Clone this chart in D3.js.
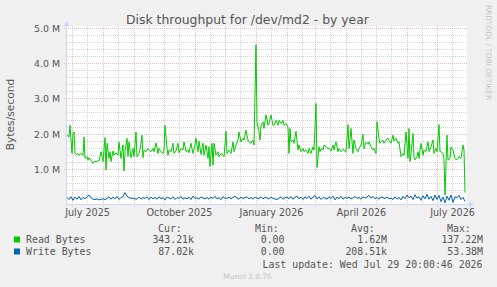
<!DOCTYPE html>
<html>
<head>
<meta charset="utf-8">
<script src="https://cdn.jsdelivr.net/npm/d3@7"></script>
<style>
  body { margin: 0; background: #f0f0f0; }
  svg { display: block; }
  text { font-family: "DejaVu Sans", sans-serif; fill: #555; }
  text.mono { font-family: "DejaVu Sans Mono", monospace; }
</style>
</head>
<body>
<svg id="chart"></svg>
<script>
// time window of the yearly graph (UTC)
const startDate = new Date(Date.UTC(2025, 5, 25, 12));
const endDate = new Date(Date.UTC(2026, 6, 30, 12));

// read throughput, [day offset from startDate, MB/s]
const readBytes = [
  [0,1.97],[2,1.92],[3,2.25],[5,1.45],[6,2.02],[7,2.06],[8,1.45],[9,1.42],[11,1.45],[12,1.40],[14,1.45],[16,1.40],
  [17,1.92],[18,1.31],[20,1.36],[21,1.26],[22,1.33],[24,1.26],[26,1.17],[27,1.22],[29,1.22],[31,1.24],[32,1.24],
  [34,1.50],[35,1.36],[36,1.22],[38,1.90],[39,0.98],[40,1.74],[42,1.31],[43,1.50],[44,1.22],[46,1.52],[47,1.40],
  [49,1.47],[51,1.40],[52,1.77],[54,1.31],[56,1.69],[57,0.95],[58,1.50],[60,1.88],[61,1.36],[62,1.78],[64,1.33],
  [66,1.59],[67,1.36],[69,2.06],[70,1.36],[72,1.45],[73,1.55],[75,1.97],[76,1.33],[77,1.55],[79,1.50],[81,1.59],
  [82,1.55],[84,1.50],[86,1.59],[87,1.50],[89,1.75],[91,1.45],[92,1.59],[94,1.50],[96,1.45],[97,1.55],[98,2.25],
  [100,1.59],[101,1.40],[102,1.55],[104,1.50],[106,1.74],[107,1.45],[109,1.52],[111,1.74],[112,1.47],[114,1.59],
  [116,1.55],[117,1.78],[119,1.50],[121,1.55],[122,1.47],[124,1.74],[126,1.45],[127,1.55],[129,1.88],[131,1.50],
  [132,1.80],[134,1.42],[136,1.74],[137,1.40],[139,1.69],[141,1.31],[142,1.64],[143,1.08],[145,1.74],[146,1.12],
  [147,1.74],[149,1.40],[151,1.50],[152,1.36],[154,1.45],[156,1.40],[157,1.36],[159,2.08],[160,1.45],[162,1.55],
  [164,1.45],[166,1.78],[167,1.50],[169,1.69],[171,1.83],[172,2.06],[174,1.78],[176,1.88],[177,1.83],[179,2.11],
  [181,1.83],[182,1.78],[184,1.74],[186,1.83],[187,1.69],[189,4.54],[190,2.35],[192,2.06],[193,1.83],[194,2.25],
  [196,2.35],[197,2.16],[199,2.55],[201,2.25],[202,2.30],[204,2.54],[206,2.25],[207,2.25],[209,2.39],[211,2.25],
  [212,2.39],[214,2.30],[216,2.39],[217,2.25],[219,2.30],[221,2.20],[222,1.45],[223,2.16],[224,1.78],[226,1.83],
  [227,1.74],[229,2.08],[231,1.55],[232,1.69],[234,1.50],[236,1.59],[237,1.50],[239,1.55],[241,1.45],[242,1.59],
  [244,1.45],[246,1.64],[247,1.55],[249,2.87],[250,1.05],[252,1.64],[253,1.50],[254,1.59],[256,1.55],[257,1.69],
  [259,1.64],[261,1.59],[262,1.61],[264,1.52],[266,1.69],[267,1.55],[269,1.78],[271,1.50],[272,1.59],[274,1.50],
  [276,1.57],[277,1.55],[279,1.48],[281,2.27],[282,1.59],[284,2.16],[286,1.45],[287,1.83],[289,1.59],[291,1.50],
  [292,1.59],[294,1.69],[296,1.99],[297,1.59],[299,1.77],[301,1.71],[302,1.78],[304,1.64],[306,1.55],[307,1.59],
  [309,1.45],[310,2.35],[312,1.88],[313,1.74],[314,1.78],[316,1.83],[317,1.74],[319,1.83],[321,1.88],[322,1.83],
  [324,1.74],[326,1.97],[327,1.80],[329,1.88],[331,1.74],[332,1.78],[334,1.36],[336,1.45],[337,1.40],[339,2.06],
  [341,1.31],[342,2.16],[343,1.22],[344,1.45],[346,2.02],[347,1.36],[348,1.27],[350,1.36],[351,1.50],[352,1.31],
  [354,1.74],[356,1.40],[357,1.55],[359,1.50],[361,1.78],[362,1.50],[364,1.64],[366,1.83],[367,1.45],[369,1.59],
  [370,1.50],[372,2.27],[373,1.50],[374,1.50],[376,1.45],[377,1.27],[378,0.27],[380,1.97],[381,1.26],[383,1.31],
  [384,1.64],[386,1.55],[388,1.31],[389,1.27],[391,1.31],[392,1.36],[394,1.31],[396,1.69],[397,1.55],[398,0.34]
];

// write throughput in MB/s, one value every 2 days from startDate
const writeStepDays = 2;
const writeBytes = [
  0.20,0.14,0.22,0.12,0.21,0.15,0.23,0.13,0.20,0.16,
  0.22,0.27,0.19,0.15,0.14,0.16,0.13,0.15,0.16,0.14,
  0.17,0.22,0.15,0.21,0.16,0.23,0.14,0.20,0.22,0.34,
  0.24,0.19,0.18,0.17,0.16,0.15,0.21,0.15,0.20,0.17,
  0.22,0.14,0.21,0.16,0.20,0.15,0.22,0.17,0.19,0.13,
  0.21,0.18,0.16,0.22,0.14,0.20,0.17,0.23,0.15,0.19,
  0.16,0.21,0.14,0.24,0.17,0.19,0.15,0.22,0.18,0.16,
  0.20,0.15,0.21,0.17,0.23,0.16,0.19,0.14,0.22,0.18,
  0.17,0.21,0.16,0.20,0.24,0.18,0.15,0.21,0.17,0.19,
  0.22,0.16,0.20,0.15,0.21,0.18,0.17,0.22,0.16,0.20,
  0.19,0.15,0.21,0.17,0.16,0.14,0.18,0.22,0.15,0.19,
  0.21,0.16,0.23,0.15,0.20,0.24,0.16,0.21,0.14,0.22,
  0.17,0.23,0.15,0.21,0.26,0.16,0.22,0.14,0.20,0.18,
  0.15,0.22,0.17,0.24,0.13,0.21,0.16,0.23,0.15,0.20,
  0.18,0.21,0.16,0.19,0.23,0.17,0.20,0.15,0.22,0.18,
  0.21,0.26,0.18,0.23,0.16,0.20,0.15,0.22,0.19,0.17,
  0.21,0.16,0.18,0.14,0.22,0.15,0.20,0.13,0.23,0.17,
  0.27,0.19,0.24,0.14,0.28,0.18,0.22,0.12,0.25,0.16,
  0.29,0.15,0.23,0.11,0.27,0.14,0.26,0.08,0.21,0.05,
  0.24,0.12,0.27,0.06,0.22,0.19,0.26,0.14,0.20,0.09
];

const yTicks = [1, 2, 3, 4, 5];
const xLabelDates = [
  new Date(Date.UTC(2025, 6, 16)), new Date(Date.UTC(2025, 9, 16)),
  new Date(Date.UTC(2026, 0, 16)), new Date(Date.UTC(2026, 3, 16)),
  new Date(Date.UTC(2026, 6, 16))
];

// legend
const seriesNames = ["Read Bytes", "Write Bytes"];
const seriesColors = ["#00cc00", "#0066b3"];
const curValues = ["343.21k", "87.02k"];
const minValues = ["0.00", "0.00"];
const avgValues = ["1.62M", "208.51k"];
const maxValues = ["137.22M", "53.38M"];
const lastUpdate = "Last update: Wed Jul 29 20:00:46 2026";

const W = 497, H = 287;
const svg = d3.select("#chart").attr("width", W).attr("height", H);

svg.append("rect").attr("width", W).attr("height", H).attr("fill", "#f0f0f0");

const x = d3.scaleUtc().domain([startDate, endDate]).range([67, 467]);
const y = d3.scaleLinear().domain([0, 5]).range([204.5, 28.5]);
const dayDate = (d) => new Date(startDate.getTime() + d * 86400000);
const px = (v) => Math.floor(v) + 0.5;

// canvas
svg.append("rect")
  .attr("x", 67).attr("y", 26)
  .attr("width", 400).attr("height", 178.5)
  .attr("fill", "#ffffff");

const grid = svg.append("g").attr("fill", "none").attr("stroke-width", 1).attr("stroke-dasharray", "1,1");

// minor horizontal grid every 0.2 M
const minorY = d3.range(1, 26).filter((i) => i % 5 !== 0).map((i) => i / 5);
grid.selectAll(".hmin").data(minorY).enter().append("line")
  .attr("x1", 67).attr("x2", 467)
  .attr("y1", (d) => px(y(d))).attr("y2", (d) => px(y(d)))
  .attr("stroke", "#d4d4d4");

// minor vertical grid, mid-month
const midMonths = d3.utcMonth.range(d3.utcMonth.floor(startDate), endDate)
  .map((m) => d3.utcDay.offset(m, 15))
  .filter((d) => d > startDate && d < endDate);
grid.selectAll(".vmin").data(midMonths).enter().append("line")
  .attr("x1", (d) => px(x(d))).attr("x2", (d) => px(x(d)))
  .attr("y1", 26).attr("y2", 206)
  .attr("stroke", "#d4d4d4");

// major grid
grid.selectAll(".hmaj").data(yTicks).enter().append("line")
  .attr("x1", 64).attr("x2", 467)
  .attr("y1", (d) => px(y(d))).attr("y2", (d) => px(y(d)))
  .attr("stroke", "#efbcbc");

const months = d3.utcMonth.range(startDate, endDate);
grid.selectAll(".vmaj").data(months).enter().append("line")
  .attr("x1", (d) => px(x(d))).attr("x2", (d) => px(x(d)))
  .attr("y1", 26).attr("y2", 207.5)
  .attr("stroke", "#efbcbc");

// y tick labels
svg.selectAll(".ylab").data(yTicks).enter().append("text")
  .attr("x", 60).attr("y", (d) => y(d) + 3.4)
  .attr("text-anchor", "end")
  .attr("font-size", "9.4px")
  .text((d) => d3.format(".1f")(d) + " M");

// x labels
svg.selectAll(".xlab").data(xLabelDates).enter().append("text")
  .attr("x", (d) => x(d)).attr("y", 215.5)
  .attr("text-anchor", "middle")
  .attr("font-size", "9.6px")
  .text((d) => d3.utcFormat("%B %Y")(d));

// series
const line = d3.line()
  .x((d) => x(dayDate(d[0])))
  .y((d) => y(d[1]));

svg.append("path")
  .datum(writeBytes.map((v, i) => [i * writeStepDays, v]))
  .attr("fill", "none").attr("stroke", seriesColors[1]).attr("stroke-width", 1)
  .attr("d", line);

svg.append("path")
  .datum(readBytes)
  .attr("fill", "none").attr("stroke", seriesColors[0]).attr("stroke-width", 1)
  .attr("d", line);

// axes with arrows
const axisColor = "#cfd6f8";
svg.append("line").attr("x1", 67).attr("x2", 471).attr("y1", 204.5).attr("y2", 204.5)
  .attr("stroke", axisColor);
svg.append("line").attr("x1", 66.5).attr("x2", 66.5).attr("y1", 205).attr("y2", 23)
  .attr("stroke", axisColor);
svg.append("path").attr("d", "M469,201.5L474,204.5L469,207.5Z").attr("fill", axisColor);
svg.append("path").attr("d", "M63.5,26L66.5,21L69.5,26Z").attr("fill", axisColor);

// titles
svg.append("text")
  .attr("x", 247.5).attr("y", 24)
  .attr("text-anchor", "middle")
  .attr("font-size", "12.4px")
  .text("Disk throughput for /dev/md2 - by year");

svg.append("text")
  .attr("transform", "translate(14,114.5)rotate(-90)")
  .attr("text-anchor", "middle")
  .attr("font-size", "10.7px")
  .text("Bytes/second");

svg.append("text")
  .attr("transform", "translate(485.5,52.5)rotate(90)")
  .attr("text-anchor", "middle")
  .attr("font-size", "7.4px")
  .style("fill", "#c4c4c4")
  .text("RRDTOOL / TOBI OETIKER");

// legend
const fs = "9.9px";
const header = [["Cur:", 158], ["Min:", 255], ["Avg:", 351], ["Max:", 447]];
svg.selectAll(".hdr").data(header).enter().append("text")
  .attr("class", "mono").attr("font-size", fs)
  .attr("x", (d) => d[1]).attr("y", 231.5)
  .text((d) => d[0]);

const rowY = [243, 255];
seriesNames.forEach((name, i) => {
  svg.append("rect")
    .attr("x", 14).attr("y", rowY[i] - 6.5)
    .attr("width", 6).attr("height", 6)
    .attr("fill", seriesColors[i]);
  svg.append("text").attr("class", "mono").attr("font-size", fs)
    .attr("x", 26).attr("y", rowY[i]).text(name);
  [[curValues[i], 194], [minValues[i], 284.5], [avgValues[i], 387], [maxValues[i], 483]].forEach((c) => {
    svg.append("text").attr("class", "mono").attr("font-size", fs)
      .attr("x", c[1]).attr("y", rowY[i])
      .attr("text-anchor", "end")
      .text(c[0]);
  });
});

svg.append("text").attr("class", "mono").attr("font-size", fs)
  .attr("x", 482.5).attr("y", 267.5)
  .attr("text-anchor", "end")
  .text(lastUpdate);

svg.append("text")
  .attr("x", 247.5).attr("y", 279)
  .attr("text-anchor", "middle")
  .attr("font-size", "7.4px")
  .style("fill", "#c4c4c4")
  .text("Munin 2.0.76");
</script>
</body>
</html>
